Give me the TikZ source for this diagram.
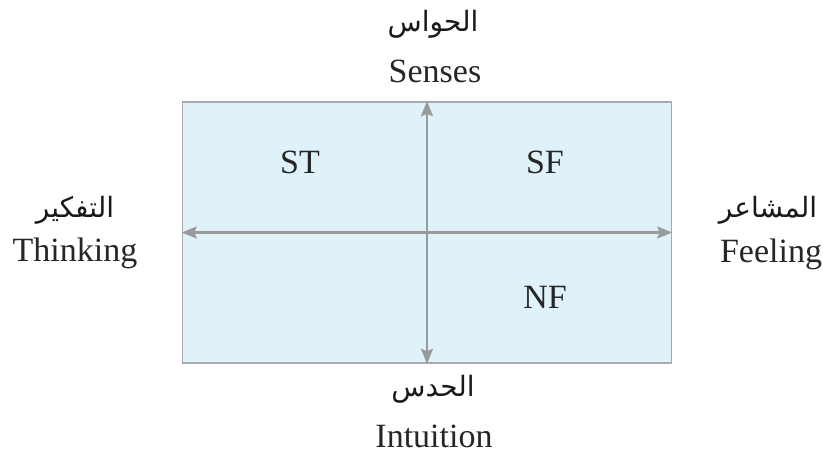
\documentclass[tikz,border=0pt]{standalone}
\usepackage{fontspec}
\setmainfont{Liberation Serif}
\newfontfamily\arabicfont[Script=Arabic]{DejaVu Sans}
\TeXXeTstate=1
\usetikzlibrary{arrows.meta}
\definecolor{boxfill}{HTML}{DFF2FA}
\definecolor{boxline}{HTML}{A7A9AC}
\definecolor{arrowgray}{HTML}{999A9C}
\tikzset{
  lat/.style={anchor=base, inner sep=0pt, font=\fontsize{34}{38}\selectfont, text=black!85},
  arab/.style={anchor=base, inner sep=0pt, font=\arabicfont\fontsize{28}{32}\selectfont, text=black!90},
  axis/.style={draw=arrowgray, line width=2.4pt, {Stealth[length=15pt,width=12pt,inset=2.5pt]}-{Stealth[length=15pt,width=12pt,inset=2.5pt]}},
}
\begin{document}
\begin{tikzpicture}[x=1pt,y=-1pt]
\useasboundingbox (0,0) rectangle (823,457);
\node (box) [draw=boxline, fill=boxfill, line width=1.5pt, minimum width=489pt, minimum height=261pt, inner sep=0pt] at (427,232.5) {};
\draw[axis] (box.north) -- (box.south);
\draw[axis] (box.west) -- (box.east);
\node (ar1) [arab] at (433,32) {\beginR الحواس\endR};
\node (senses) [lat] at (435,83) {Senses};
\node (ar2) [arab] at (75,218) {\beginR التفكير\endR};
\node (thinking) [lat] at (75,262) {Thinking};
\node (ar3) [arab] at (768,218) {\beginR المشاعر\endR};
\node (feeling) [lat] at (771,263) {Feeling};
\node (ar4) [arab] at (433,397) {\beginR الحدس\endR};
\node (intuition) [lat] at (434,447) {Intuition};
\node (st) [lat] at (300,174) {ST};
\node (sf) [lat] at (545,174) {SF};
\node (nf) [lat] at (545,309) {NF};
\end{tikzpicture}
\end{document}
